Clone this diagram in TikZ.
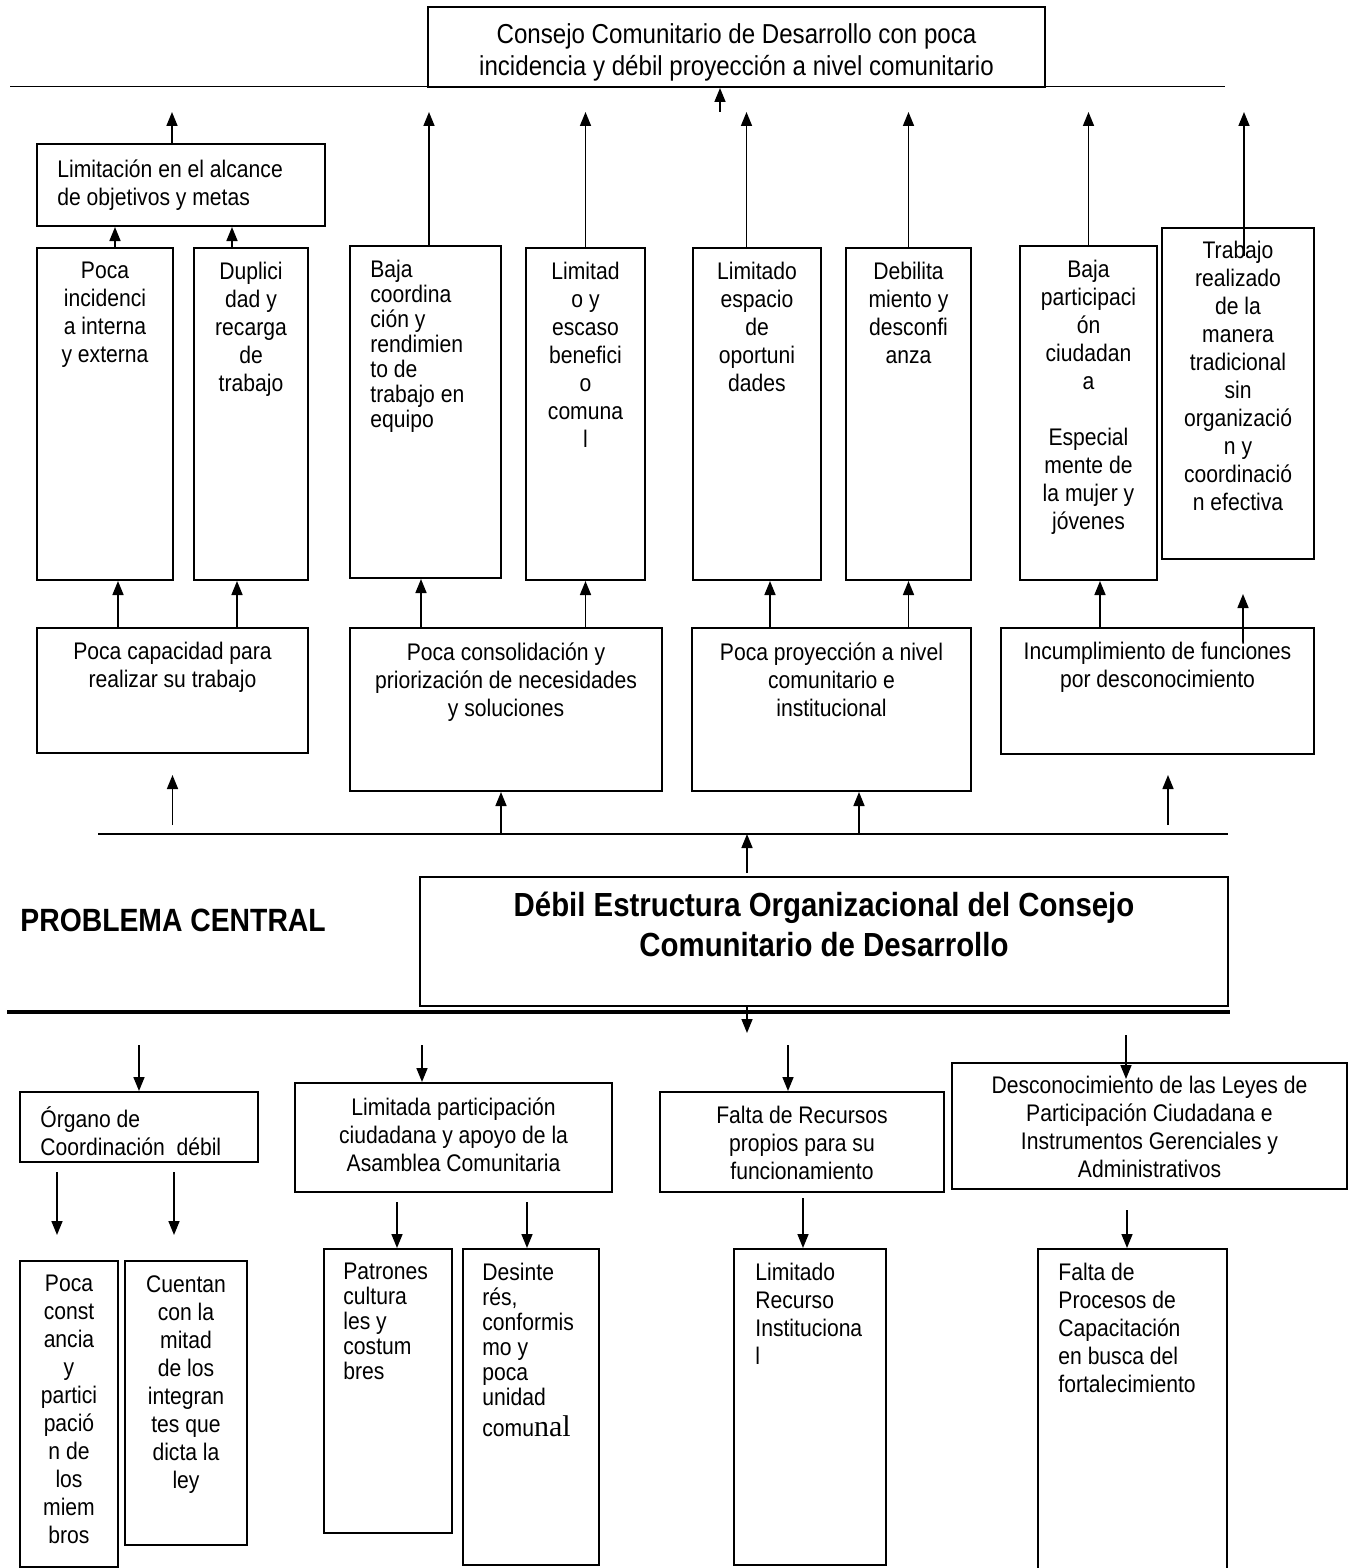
\documentclass[tikz,border=0pt]{standalone}
\usepackage{fontspec}
\setmainfont{Liberation Sans}[FakeStretch=0.88]
\newfontfamily\serifnal{Liberation Serif}
\usetikzlibrary{arrows.meta,positioning,fit,calc}

\tikzset{
  box/.style={draw, line width=1pt, inner sep=0pt},
  lbl/.style={align=center, inner sep=0pt, font=\fontsize{12}{14}\selectfont},
  lbll/.style={lbl, align=left},
  up/.style={-{Triangle[length=7pt,width=5.5pt]}, line width=0.8pt},
}

\begin{document}
\begin{tikzpicture}[x=0.5pt, y=-0.5pt]
\useasboundingbox (0,0) rectangle (1354,1568);

% Effects
\node[box, fit={(428,7) (1045,87)}] (efecto) {};
\node[lbl, font=\fontsize{13.7}{16}\selectfont, below=8.5pt of efecto.north] (efecto-t) {Consejo Comunitario de Desarrollo con poca\\incidencia y débil proyección a nivel comunitario};
\coordinate (efL) at (10,87);
\coordinate (efR) at (1225,87);
\draw[line width=0.5pt] (efL) -- (efR);
\coordinate (hy) at (0,112);

\node[box, fit={(37,144) (325,226)}] (alc) {};
\node[lbll, below right=8pt and 10.5pt of alc.north west] (alc-t) {Limitación en el alcance\\de objetivos y metas};

% Row of narrow boxes
\node[box, fit={(37,248) (173,580)}] (inc) {};
\node[box, fit={(194,248) (308,580)}] (dup) {};
\node[box, fit={(350,246) (501,578)}] (coord) {};
\node[box, fit={(526,248) (645,580)}] (benef) {};
\node[box, fit={(693,248) (821,580)}] (esp) {};
\node[box, fit={(846,248) (971,580)}] (desc) {};
\node[box, fit={(1020,246) (1157,580)}] (part) {};
\node[box, fit={(1162,228) (1314,559)}] (trad) {};

\node[lbl, below=7.5pt of inc.north] (inc-t) {Poca\\incidenci\\a interna\\y externa};
\node[lbl, below=7.5pt of dup.north] (dup-t) {Duplici\\dad y\\recarga\\de\\trabajo};
\node[lbll, font=\fontsize{12}{12.5}\selectfont, below right=7.5pt and 10.5pt of coord.north west] (coord-t) {Baja\\coordina\\ción y\\rendimien\\to de\\trabajo en\\equipo};
\node[lbl, below=7.5pt of benef.north] (benef-t) {Limitad\\o y\\escaso\\benefici\\o\\comuna\\l};
\node[lbl, below=7.5pt of esp.north] (esp-t) {Limitado\\espacio\\de\\oportuni\\dades};
\node[lbl, below=7.5pt of desc.north] (desc-t) {Debilita\\miento y\\desconfi\\anza};
\node[lbl, below=7.5pt of part.north] (part-t) {Baja\\participaci\\ón\\ciudadan\\a\\[14pt]Especial\\mente de\\la mujer y\\jóvenes};
\node[lbl, below=7pt of trad.north] (trad-t) {Trabajo\\realizado\\de la\\manera\\tradicional\\sin\\organizació\\n y\\coordinació\\n efectiva};

% Row of wide boxes
\node[box, fit={(37,628) (308,753)}] (cap) {};
\node[box, fit={(350,628) (662,791)}] (cons) {};
\node[box, fit={(692,628) (971,791)}] (proy) {};
\node[box, fit={(1001,628) (1314,754)}] (func) {};

\node[lbl, below=7.5pt of cap.north] (cap-t) {Poca capacidad para\\realizar su trabajo};
\node[lbl, below=7.5pt of cons.north] (cons-t) {Poca consolidación y\\priorización de necesidades\\y soluciones};
\node[lbl, below=7.5pt of proy.north] (proy-t) {Poca proyección a nivel\\comunitario e\\institucional};
\node[lbl, below=7.5pt of func.north] (func-t) {Incumplimiento de funciones\\por desconocimiento};

% Arrows to the top
\draw[up] ([xshift=-8.25pt]efecto.south |- hy) -- ([xshift=-8.25pt]efecto.south);
\draw[up] ([xshift=-4.5pt]alc.north) -- ([xshift=-4.5pt]alc.north |- hy);
\draw[up] ([xshift=1.75pt]coord.north) -- ([xshift=1.75pt]coord.north |- hy);
\draw[up] (benef.north) -- (benef.north |- hy);
\draw[up] ([xshift=-5.25pt]esp.north) -- ([xshift=-5.25pt]esp.north |- hy);
\draw[up] (desc.north) -- (desc.north |- hy);
\draw[up] (part.north) -- (part.north |- hy);
\draw[up] ([xshift=3pt,yshift=-14.5pt]trad.north) -- ([xshift=3pt]trad.north |- hy);
\draw[up] ([xshift=5pt]inc.north) -- ([xshift=5pt]inc.north |- alc.south);
\draw[up] ([xshift=-9.5pt]dup.north) -- ([xshift=-9.5pt]dup.north |- alc.south);

% Arrows between the rows
\draw[up] ([xshift=6.5pt]inc.south |- cap.north) -- ([xshift=6.5pt]inc.south);
\draw[up] ([xshift=-7pt]dup.south |- cap.north) -- ([xshift=-7pt]dup.south);
\draw[up] ([xshift=-2.25pt]coord.south |- cons.north) -- ([xshift=-2.25pt]coord.south);
\draw[up] (benef.south |- cons.north) -- (benef.south);
\draw[up] ([xshift=6.5pt]esp.south |- proy.north) -- ([xshift=6.5pt]esp.south);
\draw[up] (desc.south |- proy.north) -- (desc.south);
\draw[up] ([xshift=5.75pt]part.south |- func.north) -- ([xshift=5.75pt]part.south);
\draw[up] ([xshift=2.5pt,yshift=-7.5pt]trad.south |- func.north) -- ([xshift=2.5pt,yshift=-17pt]trad.south);

% Central problem
\coordinate (midL) at (98,834);
\coordinate (midR) at (1228,834);
\coordinate (gapA) at (0,825);
\coordinate (gapB) at (0,775);
\draw[line width=0.8pt] (midL) -- (midR);
\draw[up] (cap.south |- gapA) -- (cap.south |- gapB);
\draw[up] ([xshift=-2.5pt]cons.south |- midL) -- ([xshift=-2.5pt]cons.south);
\draw[up] ([xshift=13.75pt]proy.south |- midL) -- ([xshift=13.75pt]proy.south);
\draw[up] ([xshift=5.25pt]func.south |- gapA) -- ([xshift=5.25pt]func.south |- gapB);

\node[box, fit={(420,877) (1228,1006)}] (prob) {};
\node[font=\bfseries\fontsize{16.7}{20}\selectfont, align=center, inner sep=0pt, below=8pt of prob.north] (prob-t) {Débil Estructura Organizacional del Consejo\\Comunitario de Desarrollo};
\node[font=\bfseries\fontsize{16.1}{18}\selectfont, anchor=west, inner sep=0pt] (pc) at (20,920) {PROBLEMA CENTRAL};
\draw[up] ([xshift=-38.5pt,yshift=1.5pt]prob.north) -- ([xshift=-38.5pt]prob.north |- midL);

\coordinate (sepL) at (7,1012);
\coordinate (sepR) at (1230,1012);
\draw[line width=2pt] (sepL) -- (sepR);
\coordinate (downy) at (0,1033);
\draw[up] ([xshift=-38.5pt]prob.south) -- ([xshift=-38.5pt]prob.south |- downy);

% Causes
\node[box, fit={(20,1092) (258,1162)}] (org) {};
\node[box, fit={(295,1083) (612,1192)}] (asam) {};
\node[box, fit={(660,1092) (944,1192)}] (rec) {};
\node[box, fit={(952,1063) (1347,1189)}] (ley) {};

\node[lbll, below right=7.5pt and 10.5pt of org.north west] (org-t) {Órgano de\\Coordinación~ débil};
\node[lbl, below=7.5pt of asam.north] (asam-t) {Limitada participación\\ciudadana y apoyo de la\\Asamblea Comunitaria};
\node[lbl, below=7.5pt of rec.north] (rec-t) {Falta de Recursos\\propios para su\\funcionamiento};
\node[lbl, below=7pt of ley.north] (ley-t) {Desconocimiento de las Leyes de\\Participación Ciudadana e\\Instrumentos Gerenciales y\\Administrativos};

\coordinate (cy) at (0,1045);
\draw[up] (org.north |- cy) -- (org.north);
\draw[up] ([xshift=-15.75pt]asam.north |- cy) -- ([xshift=-15.75pt]asam.north);
\draw[up] ([xshift=-7pt]rec.north |- cy) -- ([xshift=-7pt]rec.north);
\draw[up] ([xshift=-11.75pt,yshift=5pt]ley.north |- cy) -- ([xshift=-11.75pt,yshift=-8.5pt]ley.north);

% Sub-causes
\node[box, fit={(20,1261) (118,1567)}] (const) {};
\node[box, fit={(125,1261) (247,1545)}] (mitad) {};
\node[box, fit={(324,1249) (452,1533)}] (cult) {};
\node[box, fit={(463,1249) (599,1565)}] (desint) {};
\node[box, fit={(734,1249) (886,1565)}] (inst) {};
\node[box, fit={(1038,1249) (1227,1590)}] (capac) {};

\node[lbl, below=7.5pt of const.north] (const-t) {Poca\\const\\ancia\\y\\partici\\pació\\n de\\los\\miem\\bros};
\node[lbl, below=7.5pt of mitad.north] (mitad-t) {Cuentan\\con la\\mitad\\de los\\integran\\tes que\\dicta la\\ley};
\node[lbll, font=\fontsize{12}{12.5}\selectfont, below right=7.5pt and 10pt of cult.north west] (cult-t) {Patrones\\cultura\\les y\\costum\\bres};
\node[lbll, font=\fontsize{12}{12.5}\selectfont, below right=7.5pt and 10pt of desint.north west] (desint-t) {Desinte\\rés,\\conformis\\mo y\\poca\\unidad\\[3pt]comu{\serifnal\fontsize{15}{14}\selectfont nal}};
\node[lbll, below right=7.5pt and 11pt of inst.north west] (inst-t) {Limitado\\Recurso\\Instituciona\\l};
\node[lbll, below right=7.5pt and 10.5pt of capac.north west] (capac-t) {Falta de\\Procesos de\\Capacitación\\en busca del\\fortalecimiento};

\coordinate (sy1) at (0,1172);
\coordinate (sy2) at (0,1235);
\draw[up] ([xshift=-6pt]const.north |- sy1) -- ([xshift=-6pt]const.north |- sy2);
\draw[up] ([xshift=-6pt]mitad.north |- sy1) -- ([xshift=-6pt]mitad.north |- sy2);
\draw[up] ([xshift=4.5pt,yshift=-4.5pt]cult.north |- asam.south) -- ([xshift=4.5pt]cult.north);
\draw[up] ([xshift=-2pt,yshift=-4.5pt]desint.north |- asam.south) -- ([xshift=-2pt]desint.north);
\draw[up] ([xshift=-3.5pt,yshift=-2.5pt]inst.north |- rec.south) -- ([xshift=-3.5pt]inst.north);
\draw[up] ([xshift=-2.75pt,yshift=-10pt]capac.north |- ley.south) -- ([xshift=-2.75pt]capac.north);
\end{tikzpicture}
\end{document}
